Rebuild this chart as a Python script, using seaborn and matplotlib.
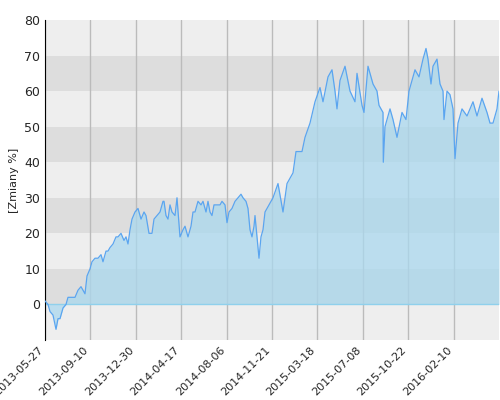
import numpy as np
import matplotlib
matplotlib.use("Agg")
import matplotlib.pyplot as plt
import seaborn as sns

tick_labels = ["2013-05-27", "2013-09-10", "2013-12-30", "2014-04-17", "2014-08-06",
               "2014-11-21", "2015-03-18", "2015-07-08", "2015-10-22", "2016-02-10"]

# session number (0 = 2013-05-27) and cumulative change in %
session = [0, 3, 5, 8, 11, 13, 15, 18, 21, 23, 27, 30, 33, 36, 38, 40, 42, 45, 47, 50,
           53, 56, 58, 61, 63, 65, 68, 71, 73, 76, 79, 81, 83, 85, 87, 90, 93, 96, 99, 101,
           104, 107, 109, 112, 115, 118, 119, 121, 123, 125, 127, 130, 132, 135, 138, 140,
           143, 146, 148, 150, 153, 156, 158, 161, 163, 165, 167, 169, 171, 173, 175, 177,
           180, 182, 184, 187, 190, 193, 196, 198, 201, 203, 205, 207, 209, 210, 213, 214,
           216, 218,
           220, 228, 233, 238, 242, 248, 251, 257, 260, 265, 270, 275, 278, 283, 287, 290,
           292, 295, 300, 305, 310, 312, 317, 319, 323, 328, 332, 334, 338, 338.3, 340, 345,
           348, 352, 357, 361, 364, 370, 374, 378, 381, 383, 386, 388, 392, 395, 398, 399,
           402, 405, 408, 410, 413, 417, 422, 428, 432, 437, 442, 445, 448, 452, 454]
values = [1, 0, -2, -3, -7, -4, -4, -1, 0, 2, 2, 2, 4, 5, 4, 3, 8, 10, 12, 13,
          13, 14, 12, 15, 15, 16, 17, 19, 19, 20, 18, 19, 17, 21, 24, 26, 27, 24, 26, 25,
          20, 20, 24, 25, 26, 29, 29, 25, 24, 28, 26, 25, 30, 19, 21, 22,
          19, 22, 26, 26, 29, 28, 29, 26, 29, 26, 25, 28, 28, 28, 28, 29,
          28, 23, 26, 27, 29, 30, 31, 30, 29, 27, 21, 19, 22, 25, 16, 13,
          19, 21,
          26, 30, 34, 26, 34, 37, 43, 43, 47, 51, 57, 61, 57, 64, 66, 60,
          55, 63, 67, 60, 57, 65, 56, 54, 67, 62, 60, 56, 54, 40, 50, 55,
          52, 47, 54, 52, 60, 66, 64, 69, 72, 69, 62, 67, 69, 62, 60, 52,
          60, 59, 55, 41, 51, 55, 53, 57, 53, 58, 54, 51, 51, 55, 60]

sns.set_style("white")
fig, ax = plt.subplots(figsize=(5, 4), dpi=100)
fig.subplots_adjust(left=0.09, right=0.998, top=0.95, bottom=0.15)

xmax = 454

for lo in range(-10, 80, 10):
    c = "#dddddd" if (lo // 10) % 2 == 0 else "#eeeeee"
    ax.axhspan(lo, lo + 10, color=c, zorder=0, lw=0)

ticks = [xmax * i / 10 for i in range(10)]
for t in ticks:
    ax.axvline(t, color="#bbbbbb", lw=1, zorder=1)

ax.fill_between(session, values, 0, color="#aad8ee", alpha=0.75, zorder=2, lw=0)
ax.axhline(0, color="#8fd0ec", lw=1, zorder=2)
sns.lineplot(x=session, y=values, ax=ax, color="#5aa5f0", lw=0.9, zorder=3)

ax.set_xlim(0, xmax)
ax.set_ylim(-10, 80)
ax.set_yticks(range(-10, 81, 10))
ax.set_yticklabels(["", "0", "10", "20", "30", "40", "50", "60", "70", "80"], fontsize=9)
ax.set_xticks(ticks)
ax.set_xticklabels(tick_labels, rotation=45, ha="right", fontsize=8)
ax.set_ylabel("[Zmiany %]", fontsize=8)
for s in ["top", "right", "bottom"]:
    ax.spines[s].set_visible(False)
ax.spines["left"].set_color("black")
ax.tick_params(axis="both", length=0)

fig.savefig("out.png", dpi=100)
